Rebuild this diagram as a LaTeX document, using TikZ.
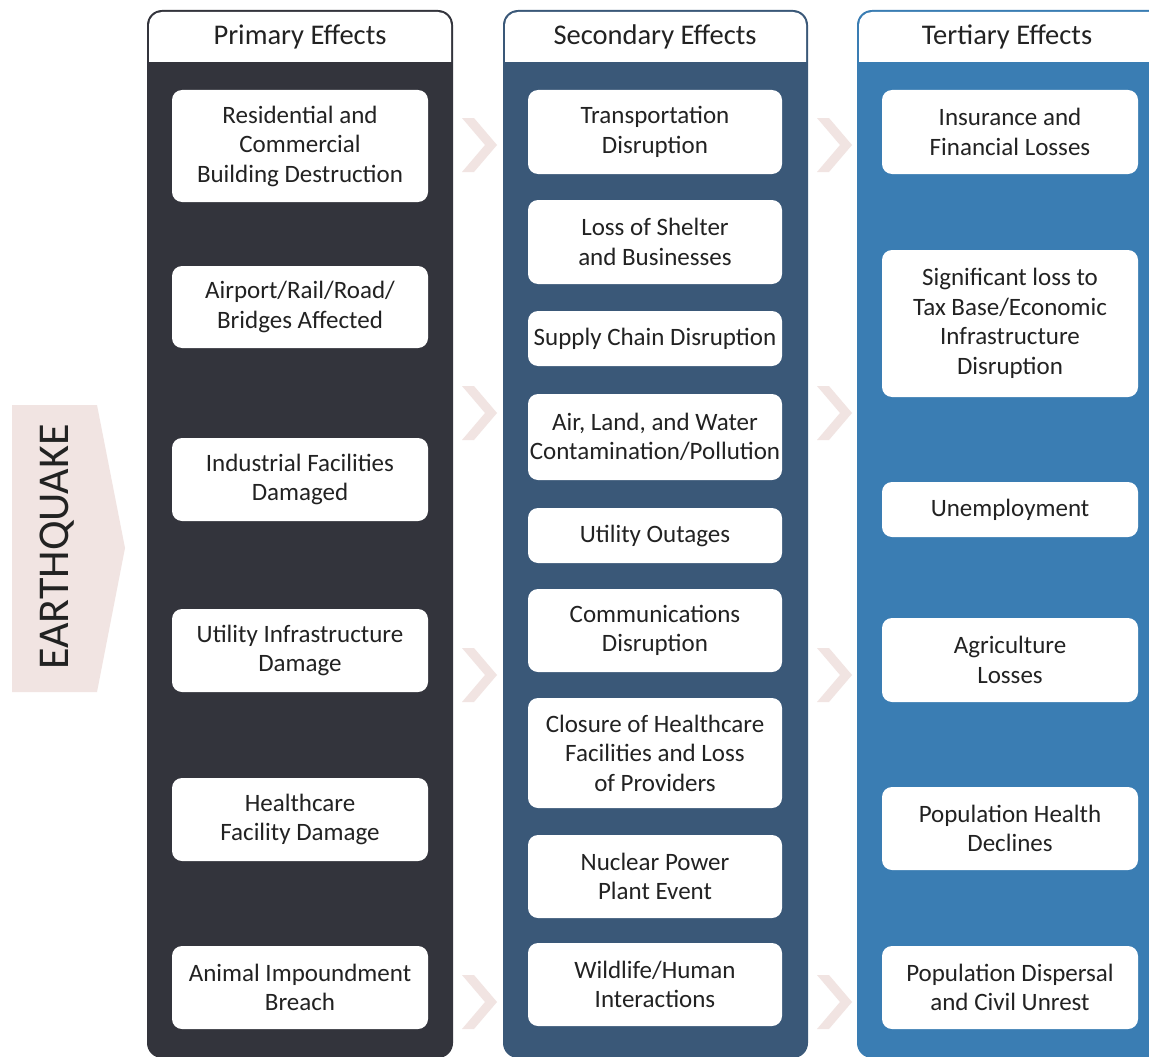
\documentclass[tikz,border=0pt]{standalone}
\usepackage{fontspec}
\setmainfont{Carlito}
\definecolor{cone}{HTML}{33343C}
\definecolor{ctwo}{HTML}{3A5878}
\definecolor{cthree}{HTML}{3A7DB3}
\definecolor{pinkc}{HTML}{F1E4E2}
\definecolor{txt}{HTML}{222222}
\begin{document}
\begin{tikzpicture}[x=1pt,y=-1pt,
  ebox/.style={fill=white, rounded corners=10pt, inner sep=0pt, align=center,
    text=txt, font=\fontsize{25}{29.5}\selectfont},
  head/.style={text=txt, font=\fontsize{28.5}{30}\selectfont, inner sep=0pt},
  chev/.style={fill=pinkc}]
\useasboundingbox (0,0) rectangle (1149,1057);
\clip (0,0) rectangle (1149,1057);
\fill[white] (0,0) rectangle (1149,1057);
% EARTHQUAKE arrow
\fill[pinkc] (12,405) -- (97,405) -- (125,548) -- (97,692) -- (12,692) -- cycle;
\node[rotate=90, text=txt, font=\fontsize{44}{46}\selectfont, inner sep=0pt] (eq) at (57,547) {EARTHQUAKE};
% columns
\newcommand{\column}[6]{%
  \fill[#3, rounded corners=15pt] (#1,10) rectangle (#2,1058);
  \fill[white, rounded corners=13pt] ({#1+2},12) rectangle ({#2-2},95);
  \fill[#3] (#1,62) rectangle (#2,100);
  \node[head] (#4) at (#6,37) {#5};}
\column{147}{453}{cone}{h1}{Primary Effects}{300}
\column{503}{808}{ctwo}{h2}{Secondary Effects}{655}
\column{857}{1175}{cthree}{h3}{Tertiary Effects}{1007}
% boxes
\newcommand{\ebx}[6]{%
  \node[ebox, minimum width={(#4-#2)*1pt}, minimum height={(#5-#3)*1pt}] (#1) at ({(#2+#4)/2},{(#3+#5)/2}) {#6};}
% column 1
\ebx{p1}{172}{90}{428}{202}{Residential and\\Commercial\\Building Destruction}
\ebx{p2}{172}{266}{428}{348}{Airport/Rail/Road/\\Bridges Affected}
\ebx{p3}{172}{438}{428}{521}{Industrial Facilities\\Damaged}
\ebx{p4}{172}{609}{428}{692}{Utility Infrastructure\\Damage}
\ebx{p5}{172}{778}{428}{861}{Healthcare\\Facility Damage}
\ebx{p6}{172}{946}{428}{1029}{Animal Impoundment\\Breach}
% column 2
\ebx{s1}{528}{90}{782}{174}{Transportation\\Disruption}
\ebx{s2}{528}{200}{782}{284}{Loss of Shelter\\and Businesses}
\ebx{s3}{528}{311}{782}{366}{Supply Chain Disruption}
\ebx{s4}{528}{394}{782}{480}{Air, Land, and Water\\Contamination/Pollution}
\ebx{s5}{528}{508}{782}{563}{Utility Outages}
\ebx{s6}{528}{589}{782}{672}{Communications\\Disruption}
\ebx{s7}{528}{698}{782}{808}{Closure of Healthcare\\Facilities and Loss\\of Providers}
\ebx{s8}{528}{835}{782}{918}{Nuclear Power\\Plant Event}
\ebx{s9}{528}{943}{782}{1026}{Wildlife/Human\\Interactions}
% column 3
\ebx{t1}{882}{90}{1138}{174}{Insurance and\\Financial Losses}
\ebx{t2}{882}{250}{1138}{397}{Significant loss to\\Tax Base/Economic\\Infrastructure\\Disruption}
\ebx{t3}{882}{482}{1138}{537}{Unemployment}
\ebx{t4}{882}{618}{1138}{702}{Agriculture\\Losses}
\ebx{t5}{882}{787}{1138}{870}{Population Health\\Declines}
\ebx{t6}{882}{946}{1138}{1029}{Population Dispersal\\and Civil Unrest}
% chevrons
\newcommand{\chevron}[2]{%
  \fill[chev] ({#1},{#2-27}) -- ({#1+12},{#2-27}) -- ({#1+35},{#2}) -- ({#1+12},{#2+27}) -- ({#1},{#2+27}) -- ({#1+23},{#2}) -- cycle;}
\foreach \yy in {145,413,675,1002} {
  \chevron{462}{\yy}
  \chevron{817}{\yy}
}
\end{tikzpicture}
\end{document}
